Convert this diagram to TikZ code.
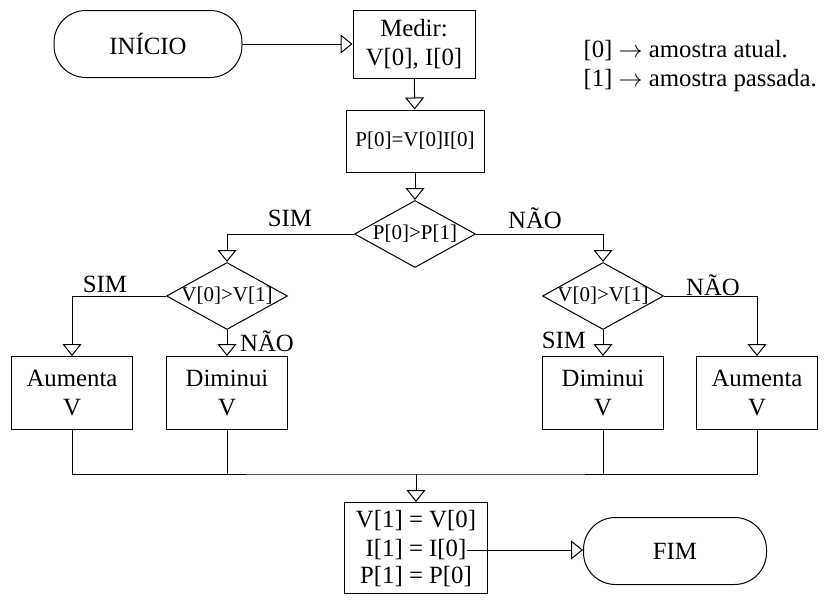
\documentclass[tikz,border=0pt]{standalone}
\usepackage{fontspec}
\setmainfont{Liberation Serif}
\usetikzlibrary{shapes.geometric, arrows.meta, positioning}

\begin{document}
\begin{tikzpicture}[
    x=0.5pt, y=-0.5pt,
    line width=0.5pt,
    every node/.style={font=\fontsize{12.4}{14.5}\selectfont},
    term/.style={rectangle, draw, rounded corners=16pt, minimum width=94pt, minimum height=33.5pt},
    box/.style={rectangle, draw, align=center, inner sep=1pt},
    cond/.style={diamond, draw, aspect=1.8, inner sep=0pt, minimum width=60.5pt, minimum height=33.5pt, font=\fontsize{10.5}{12}\selectfont},
    lbl/.style={inner sep=0pt},
    arrow/.style={-{Triangle[open, length=6pt, width=9.5pt]}}
]
\useasboundingbox (0,0) rectangle (832,606);
\node[term] (inicio) at (148,44) {INÍCIO};
\node[box, minimum width=61pt, minimum height=34pt] (medir) at (414,44) {Medir:\\V[0], I[0]};
\node[box, minimum width=69pt, minimum height=31pt, font=\fontsize{10.5}{12}\selectfont] (pcalc) at (415,141) {P[0]=V[0]I[0]};
\node[cond] (dp) at (415,234) {\makebox[30pt]{P[0]>P[1]}};
\node[cond] (dvl) at (227,296) {\makebox[30pt]{V[0]>V[1]}};
\node[cond] (dvr) at (603,296) {\makebox[30pt]{V[0]>V[1]}};
\node[box, minimum width=60.5pt, minimum height=36.5pt] (aumL) at (72,393) {Aumenta\\V};
\node[box, minimum width=60.5pt, minimum height=36.5pt] (dimL) at (227,393) {Diminui\\V};
\node[box, minimum width=60.5pt, minimum height=36.5pt] (dimR) at (603,393) {Diminui\\V};
\node[box, minimum width=60.5pt, minimum height=36.5pt] (aumR) at (757,393) {Aumenta\\V};
\node[box, minimum width=71.5pt, minimum height=45.5pt] (atual) at (416,548) {};
\node[lbl] (vatual) at (416,521) {V[1] = V[0]};
\node[lbl] (iatual) at (416,550) {I[1] = I[0]};
\node[lbl] (patual) at (416,577) {P[1] = P[0]};
\node[term, minimum width=91.5pt] (fim) at (675,551) {FIM};
\node[anchor=north west, align=left, inner sep=0pt] (legenda) at (583,40) {[0] $\rightarrow$ amostra atual.\\{}[1] $\rightarrow$ amostra passada.};
\node[lbl] (simP) at (290,218) {SIM};
\node[lbl] (naoP) at (535,218) {NÃO};
\node[lbl] (simL) at (105,284) {SIM};
\node[lbl] (naoL) at (267,341) {NÃO};
\node[lbl] (simR) at (564,340) {SIM};
\node[lbl] (naoR) at (713,285) {NÃO};
\coordinate (bus) at (416,474);
\draw[arrow] (inicio) -- (medir);
\draw[arrow] (medir) -- (pcalc);
\draw[arrow] (pcalc) -- (dp);
\draw[arrow] (dp.west) -| (dvl.north);
\draw[arrow] (dp.east) -| (dvr.north);
\draw[arrow] (dvl.west) -| (aumL.north);
\draw[arrow] (dvl.south) -- (dimL.north);
\draw[arrow] (dvr.south) -- (dimR.north);
\draw[arrow] (dvr.east) -| (aumR.north);
\draw (aumL.south) |- (bus) -| (aumR.south);
\draw (dimL.south) -- (dimL.south |- bus);
\draw (dimR.south) -- (dimR.south |- bus);
\draw[arrow] (bus) -- (atual);
\draw[arrow] (iatual.east) -- (iatual.east -| fim.west);
\end{tikzpicture}
\end{document}
